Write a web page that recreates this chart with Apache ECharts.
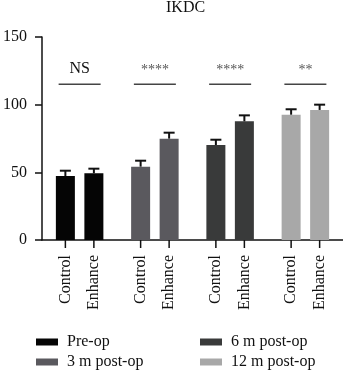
<!DOCTYPE html>
<html>
<head>
<meta charset="utf-8">
<script src="https://cdn.jsdelivr.net/npm/echarts@6/dist/echarts.min.js"></script>
<style>
    html, body { margin: 0; padding: 0; background: #fff; }
    #chart { width: 343px; height: 371px; }
</style>
</head>
<body>
<div id="chart"></div>
<script>
// data
const timepoints = ['Pre-op', '3 m post-op', '6 m post-op', '12 m post-op']
const groups = ['Control', 'Enhance']
const controlMean = [47.3, 54.2, 70.2, 92.6]
const controlSd = [3.9, 4.4, 3.9, 4.0]
const enhanceMean = [49.3, 74.9, 87.7, 96.1]
const enhanceSd = [3.4, 4.4, 4.4, 3.9]
const significance = ['NS', '****', '****', '**']
const sigLevel = 115
const yTicks = [0, 50, 100, 150]

const colors = ['#050505', '#5a595e', '#393a3a', '#a8a8a8']
const font = "'Liberation Serif', 'Times New Roman', serif"
const textColor = '#111'
const barWidth = 19
const barGap = 9.5
const half = (barWidth + barGap) / 2

const chart = echarts.init(document.getElementById('chart'))

// error bar + x tick for every bar
const errData = []
timepoints.forEach((t, i) => {
    errData.push([i, controlMean[i], controlMean[i] + controlSd[i], -1])
    errData.push([i, enhanceMean[i], enhanceMean[i] + enhanceSd[i], 1])
})

function renderErr (params, api) {
    const c = api.coord([api.value(0), api.value(1)])
    const top = api.coord([api.value(0), api.value(2)])
    const base = api.coord([api.value(0), 0])
    const x = c[0] + api.value(3) * half
    const ls = { stroke: '#111', lineWidth: 2 }
    return {
        type: 'group',
        children: [
            { type: 'line', shape: { x1: x, y1: c[1], x2: x, y2: top[1] }, style: ls },
            { type: 'line', shape: { x1: x - 5.5, y1: top[1], x2: x + 5.5, y2: top[1] }, style: ls },
            { type: 'line', shape: { x1: x, y1: base[1], x2: x, y2: base[1] + 8 }, style: { stroke: '#111', lineWidth: 1.5 } }
        ]
    }
}

function renderSig (params, api) {
    const p = api.coord([api.value(0), api.value(1)])
    const label = significance[params.dataIndex]
    const isStar = label.indexOf('*') === 0
    return {
        type: 'group',
        children: [
            { type: 'line', shape: { x1: p[0] - 21, y1: p[1], x2: p[0] + 21, y2: p[1] }, style: { stroke: '#444', lineWidth: 1.5 } },
            {
                type: 'text',
                x: p[0],
                y: p[1] - (isStar ? 14 : 16),
                style: {
                    text: label,
                    fill: isStar ? '#555' : textColor,
                    font: (isStar ? '14px ' : '16px ') + font,
                    align: 'center',
                    verticalAlign: 'middle'
                }
            }
        ]
    }
}

const series = [
    {
        name: groups[0],
        type: 'bar',
        barWidth: barWidth,
        barGap: (barGap / barWidth * 100) + '%',
        data: controlMean.map((v, i) => ({ value: v, itemStyle: { color: colors[i] } }))
    },
    {
        name: groups[1],
        type: 'bar',
        barWidth: barWidth,
        data: enhanceMean.map((v, i) => ({ value: v, itemStyle: { color: colors[i] } }))
    },
    { type: 'custom', renderItem: renderErr, data: errData, z: 5, silent: true },
    { type: 'custom', renderItem: renderSig, data: timepoints.map((t, i) => [i, sigLevel]), silent: true }
]

// legend-only series
timepoints.forEach((t, i) => {
    series.push({ name: t, type: 'custom', renderItem: () => null, data: [], itemStyle: { color: colors[i] } })
})

const legendBase = {
    orient: 'vertical',
    icon: 'rect',
    itemWidth: 22,
    itemHeight: 7,
    itemGap: 4,
    padding: 0,
    selectedMode: false,
    textStyle: { fontFamily: font, fontSize: 16, color: textColor, lineHeight: 16, padding: [0, 0, 0, 4] }
}

chart.setOption({
    animation: false,
    title: {
        text: 'IKDC',
        left: 166,
        top: 0,
        padding: 0,
        textStyle: { fontFamily: font, fontSize: 16, fontWeight: 'normal', color: textColor }
    },
    legend: [
        Object.assign({}, legendBase, { left: 36, top: 334, data: [timepoints[0], timepoints[1]] }),
        Object.assign({}, legendBase, { left: 200, top: 334, data: [timepoints[2], timepoints[3]] })
    ],
    grid: { left: 36, right: 0, top: 37, bottom: 131, containLabel: false },
    xAxis: {
        type: 'category',
        data: timepoints,
        axisLine: { lineStyle: { color: '#111', width: 1.5 } },
        axisTick: { show: false },
        axisLabel: {
            interval: 0,
            rotate: 90,
            margin: 15,
            fontFamily: font,
            fontSize: 16,
            color: textColor,
            lineHeight: half * 2,
            formatter: () => groups.join('\n')
        }
    },
    yAxis: {
        type: 'value',
        min: yTicks[0],
        max: yTicks[yTicks.length - 1],
        interval: yTicks[1] - yTicks[0],
        splitLine: { show: false },
        axisLine: { show: true, lineStyle: { color: '#111', width: 1.5 } },
        axisTick: { show: true, length: 7, lineStyle: { color: '#111', width: 1.5 } },
        axisLabel: { margin: 15, fontFamily: font, fontSize: 16, color: textColor }
    },
    series: series
})
</script>
</body>
</html>
